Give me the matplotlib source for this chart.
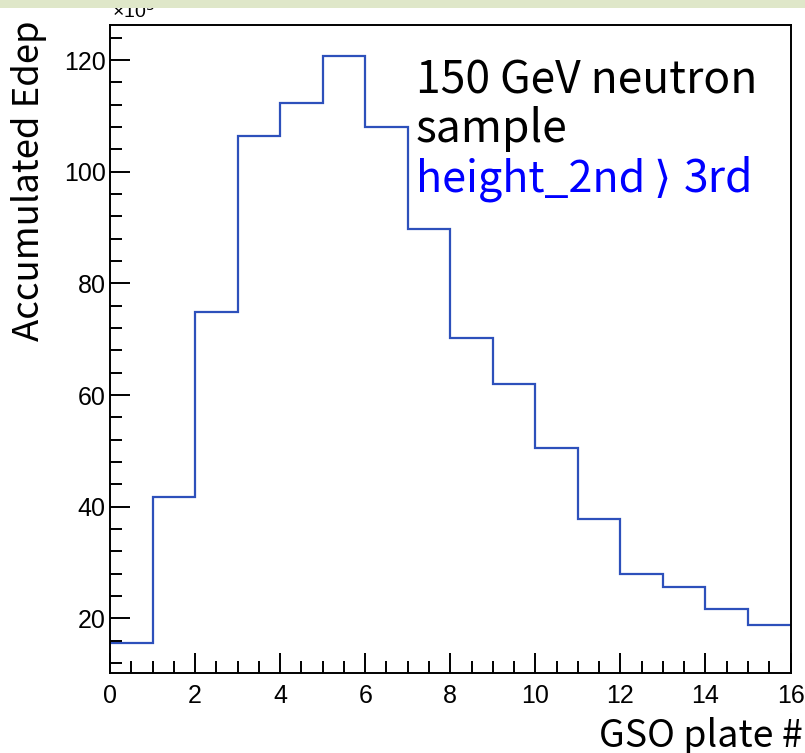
import matplotlib
matplotlib.use("Agg")
import matplotlib.pyplot as plt
from matplotlib.ticker import MultipleLocator
from matplotlib.patches import Rectangle
import numpy as np

# Accumulated energy deposit per GSO plate (units of 10^3)
plate_edges = np.arange(0, 17)
edep = [15.5, 41.8, 74.8, 106.5, 112.4, 120.7, 108.0, 89.8,
        70.2, 62.0, 50.6, 37.8, 27.9, 25.6, 21.6, 18.8]

title_lines = ["150 GeV neutron", "sample"]
cut_parts = ["height_2nd", r"$\rangle$", "3rd"]
x_label = "GSO plate #"
y_label = "Accumulated Edep"

plt.rcParams["font.family"] = ["Liberation Sans", "DejaVu Sans"]
plt.rcParams["font.size"] = 17

W, H, DPI = 805, 753, 100
fig = plt.figure(figsize=(W / DPI, H / DPI), dpi=DPI)
fig.patch.set_facecolor("white")

left, right, bottom, top = 110, 790.5, 673, 25
ax = fig.add_axes([left / W, 1 - bottom / H, (right - left) / W, (bottom - top) / H])

ax.stairs(edep, plate_edges, color="#2d50bb", linewidth=1.6, baseline=None)

ax.set_xlim(0, 16)
ax.set_ylim(10.2, 126.3)

ax.xaxis.set_major_locator(MultipleLocator(2))
ax.xaxis.set_minor_locator(MultipleLocator(0.5))
ax.yaxis.set_major_locator(MultipleLocator(20))
ax.yaxis.set_minor_locator(MultipleLocator(4))

ax.tick_params(which="both", direction="in", top=False, right=False,
               width=1.4, color="black", labelsize=18)
ax.tick_params(which="major", length=14.5)
ax.tick_params(which="minor", length=8.5)
ax.tick_params(axis="x", pad=8)
ax.tick_params(axis="y", pad=3)

for s in ax.spines.values():
    s.set_linewidth(1.4)
    s.set_color("black")

label_font = ["Noto Sans CJK KR", "DejaVu Sans"]
fig.text(803 / W, 1 - 747 / H, x_label, ha="right", va="baseline",
         fontsize=27, family=label_font)
fig.text(29 / W, 1 - 20 / H, y_label, ha="center", va="top", rotation=90,
         fontsize=26.3, family=label_font)

fig.text(112 / W, 1 - 18 / H, r"×10$^{3}$", ha="left", va="baseline",
         fontsize=14)

fs = 32
fig.text(416 / W, 1 - 93 / H, title_lines[0], ha="left", va="baseline",
         fontsize=fs, family=label_font, color="black")
fig.text(416 / W, 1 - 142 / H, title_lines[1], ha="left", va="baseline",
         fontsize=fs, family=label_font, color="black")
# cut description, the bracket set apart with even gaps on both sides
blue = "#0000ff"
fig.text(416 / W, 1 - 192 / H, cut_parts[0], ha="left", va="baseline",
         fontsize=31, family=label_font, color=blue)
fig.text(661 / W, 1 - 192 / H, cut_parts[1], ha="center", va="baseline",
         fontsize=fs, color=blue)
fig.text(753 / W, 1 - 192 / H, cut_parts[2], ha="right", va="baseline",
         fontsize=fs, family=label_font, color=blue)

# light band across the top edge
fig.add_artist(Rectangle((0, 1 - 8 / H), 1, 8 / H, transform=fig.transFigure,
                         facecolor="#dfe7c9", edgecolor="none", zorder=10))

fig.savefig("out.png", dpi=DPI)
